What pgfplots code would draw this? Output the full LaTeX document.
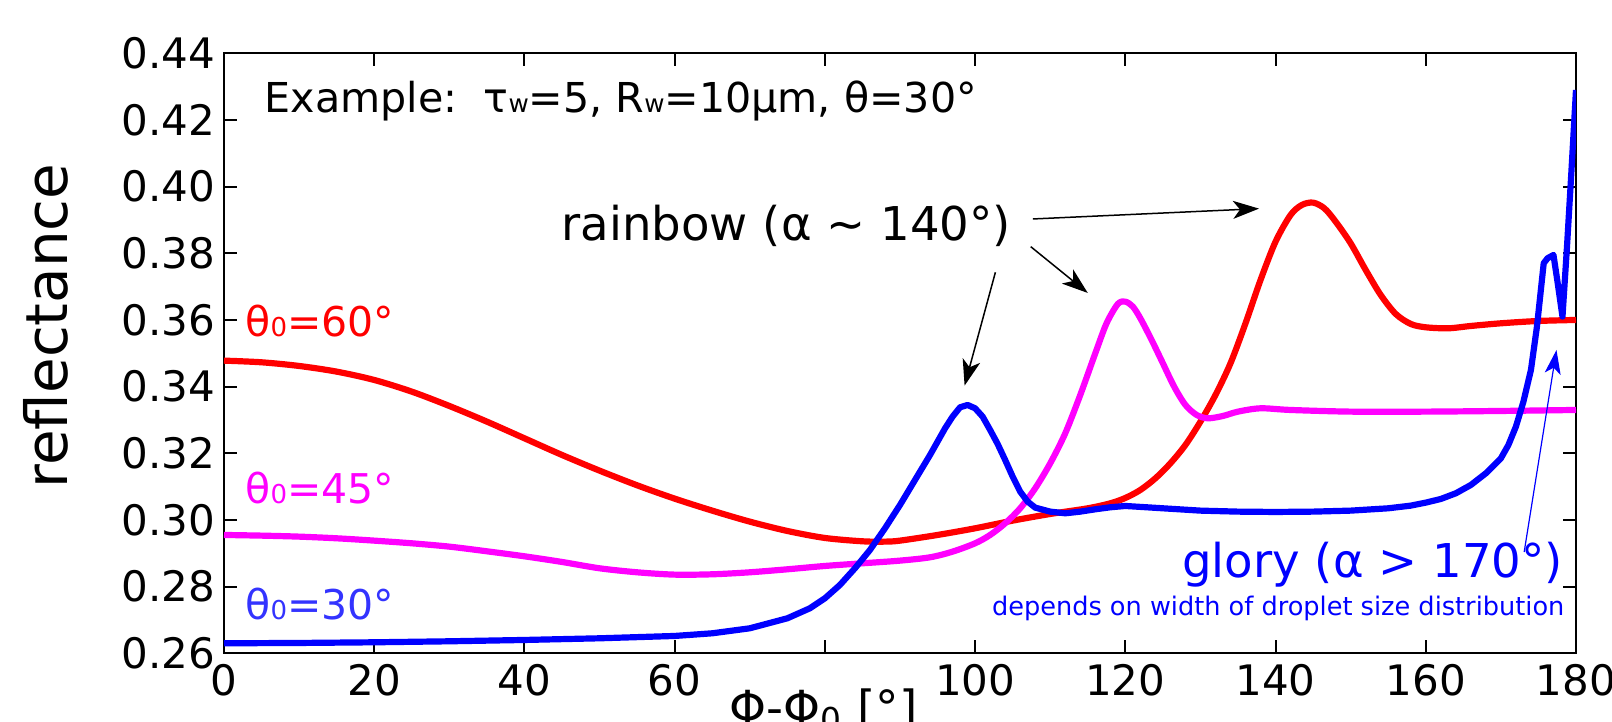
\documentclass[border=0pt]{standalone}
\usepackage{fontspec}
\setmainfont{DejaVu Sans}
\usepackage{pgfplots}
\pgfplotsset{compat=1.18}
\usetikzlibrary{arrows.meta}
\definecolor{lblue}{rgb}{0.2,0.2,1}
\definecolor{mag}{rgb}{1,0,1}
\definecolor{pblue}{rgb}{0,0,1}
\definecolor{pred}{rgb}{1,0,0}
\newcommand{\sm}[2]{{\fontsize{#1}{#1}\selectfont #2}}

\pgfplotstableread{
x y
0 0.2630
10 0.2631
20 0.2633
30 0.2636
40 0.2640
50 0.2645
60 0.2652
65 0.2660
70 0.2675
75 0.2705
78 0.2735
80 0.2765
82 0.2805
84 0.2855
86 0.2910
88 0.2975
90 0.3045
92 0.3120
94 0.3195
96 0.3275
97 0.3310
98 0.3338
99 0.3345
100 0.3335
101 0.3310
102 0.3270
103 0.3228
104 0.3180
105 0.3130
106 0.3085
107 0.3055
108 0.3037
110 0.3025
112 0.3020
114 0.3025
116 0.3032
118 0.3038
120 0.3042
125 0.3035
130 0.3028
135 0.3025
140 0.3024
145 0.3025
150 0.3028
155 0.3035
158 0.3043
160 0.3052
162 0.3063
164 0.3080
166 0.3105
168 0.3140
170 0.3185
171 0.3225
172 0.3280
173 0.3355
174 0.3450
174.8 0.3580
175.7 0.3770
176.2 0.3785
177 0.3795
177.5 0.3720
178.2 0.3610
178.8 0.3820
179.4 0.4050
180 0.4290
}\bluedata

\pgfplotstableread{
x y
0 0.3478
5 0.3473
10 0.3462
15 0.3445
20 0.3420
25 0.3385
30 0.3342
35 0.3295
40 0.3245
45 0.3195
50 0.3148
55 0.3104
60 0.3064
65 0.3028
70 0.2995
75 0.2967
80 0.2946
85 0.2936
88 0.2935
90 0.2938
95 0.2955
100 0.2975
105 0.2998
110 0.3018
115 0.3035
118 0.3050
120 0.3066
122 0.3090
124 0.3125
126 0.3170
128 0.3225
130 0.3295
132 0.3375
134 0.3470
136 0.3590
138 0.3720
140 0.3835
142 0.3915
143.5 0.3945
145 0.3952
146.5 0.3935
148 0.3895
150 0.3830
152 0.3750
154 0.3675
156 0.3618
158 0.3588
160 0.3578
163 0.3575
166 0.3582
170 0.3590
175 0.3597
180 0.3600
}\reddata

\pgfplotstableread{
x y
0 0.2955
5 0.2953
10 0.2950
15 0.2945
20 0.2938
25 0.2930
30 0.2920
35 0.2906
40 0.2891
45 0.2874
50 0.2855
55 0.2843
60 0.2836
65 0.2837
70 0.2843
75 0.2852
80 0.2862
85 0.2870
90 0.2878
94 0.2888
97 0.2905
100 0.2930
102 0.2955
104 0.2990
106 0.3035
108 0.3095
110 0.3170
112 0.3260
114 0.3375
116 0.3500
117.5 0.3590
119 0.3648
120 0.3655
121 0.3640
122 0.3605
123.5 0.3540
125 0.3470
126.5 0.3400
128 0.3345
129.5 0.3315
131 0.3305
133 0.3312
135 0.3325
138 0.3335
142 0.3330
150 0.3325
160 0.3325
170 0.3327
180 0.3330
}\magdata

\begin{document}
\begin{tikzpicture}
\begin{axis}[
  scale only axis, width=676pt, height=300pt,
  xmin=0, xmax=180, ymin=0.26, ymax=0.44,
  xtick={0,20,40,60,80,100,120,140,160,180},
  xticklabels={0,20,40,60,{},100,120,140,160,180},
  ytick={0.26,0.28,0.30,0.32,0.34,0.36,0.38,0.40,0.42,0.44},
  yticklabels={0.26,0.28,0.30,0.32,0.34,0.36,0.38,0.40,0.42,0.44},
  ticklabel style={font=\fontsize{21}{25}\selectfont},
  xticklabel style={yshift=-2pt},
  yticklabel style={xshift=-1pt},
  tick style={line width=1pt, black},
  major tick length=6.5pt,
  axis line style={line width=1.1pt},
  xlabel={Φ-Φ\textsubscript{0} [°]},
  xlabel style={at={(axis description cs:0.4434,0)}, anchor=north, yshift=-17.35pt, inner sep=0pt, font=\fontsize{23.5}{28}\selectfont},
  ylabel={reflectance},
  ylabel style={at={(axis description cs:-0.1154,0.5455)}, anchor=base, inner sep=0pt, font=\fontsize{29}{34}\selectfont},
]
\addplot[pred, line width=3.1pt, smooth, line join=round] table[x=x,y=y] {\reddata};
\addplot[mag, line width=3.1pt, smooth, line join=round] table[x=x,y=y] {\magdata};
\addplot[pblue, line width=3.1pt, line join=round] table[x=x,y=y] {\bluedata};

\node[anchor=base west, inner sep=0pt, font=\fontsize{20.6}{24}\selectfont] at (axis cs:5.4,0.4222) {Example:\ \ τ\sm{12.4}{w}=5, R\sm{12.4}{w}=10μm, θ=30°};
\node[anchor=base west, inner sep=0pt, pred, font=\fontsize{20.5}{24}\selectfont] at (axis cs:2.8,0.3550) {θ\sm{13}{0}=60°};
\node[anchor=base west, inner sep=0pt, mag, font=\fontsize{20.5}{24}\selectfont] at (axis cs:2.8,0.3049) {θ\sm{13}{0}=45°};
\node[anchor=base west, inner sep=0pt, lblue, font=\fontsize{20.5}{24}\selectfont] at (axis cs:2.8,0.2701) {θ\sm{13}{0}=30°};
\node[anchor=base west, inner sep=0pt, font=\fontsize{23.3}{27}\selectfont] at (axis cs:44.9,0.3837) {rainbow (α \textasciitilde{} 140°)};
\node[anchor=base east, inner sep=0pt, pblue, font=\fontsize{23.3}{28}\selectfont] at (axis cs:178.3,0.2826) {glory (α > 170°)};
\node[anchor=base east, inner sep=0pt, pblue, font=\fontsize{12.8}{15}\selectfont] at (axis cs:178.5,0.2712) {depends on width of droplet size distribution};

\draw[-{Stealth[length=13pt,width=9pt,inset=3.5pt]}, line width=0.75pt] (axis cs:107.7,0.3903) -- (axis cs:137.8,0.3934);
\draw[-{Stealth[length=13pt,width=9pt,inset=3.5pt]}, line width=0.75pt] (axis cs:107.4,0.3820) -- (axis cs:115.0,0.3681);
\draw[-{Stealth[length=13pt,width=9pt,inset=3.5pt]}, line width=0.75pt] (axis cs:102.7,0.3743) -- (axis cs:98.6,0.3403);
\draw[pblue, -{Stealth[length=12pt,width=8pt,inset=3pt]}, line width=0.6pt] (axis cs:173.1,0.2904) -- (axis cs:177.4,0.3510);

\coordinate (bl) at (rel axis cs:0,0);
\coordinate (tr) at (rel axis cs:1,1);
\end{axis}
\pgfresetboundingbox
\useasboundingbox ([shift={(-112pt,-34.35pt)}]bl) rectangle ([shift={(18pt,26.65pt)}]tr);
\end{tikzpicture}
\end{document}
